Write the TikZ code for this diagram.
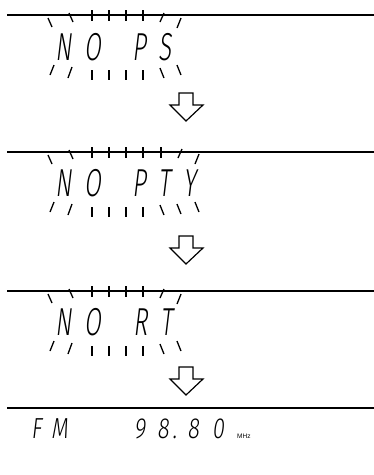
\documentclass[tikz,border=0pt]{standalone}
\usepackage{fontspec}
\usetikzlibrary{positioning}
\newfontfamily\lcdfont{Fira Sans Light}[FakeStretch=0.62,FakeSlant=0.12,LetterSpace=34]
\newfontfamily\lcdsmallfont{Fira Sans Light}[FakeStretch=0.75,FakeSlant=0.12]
\newfontfamily\unitfont{Liberation Sans}

\begin{document}
\begin{tikzpicture}[x=1pt, y=-1pt,
    rule/.style={line width=1.6pt},
    blink/.style={line width=1.3pt},
    lcd/.style={anchor=base west, inner sep=0pt,
                font=\lcdfont\fontsize{39}{39}\selectfont},
    lcdsmall/.style={anchor=base west, inner sep=0pt,
                font=\lcdsmallfont\fontsize{29}{29}\selectfont},
    unit/.style={anchor=base west, inner sep=0pt,
                font=\unitfont\fontsize{6.5}{6.5}\selectfont},
    hollow/.style={draw, line width=1.2pt, fill=white, line join=miter}
  ]
    \useasboundingbox (0,0) rectangle (374,475);

    % display 1
    \begin{scope}[shift={(0,15)}]
      \draw[rule] (7,0) -- (374,0);
      \foreach \x in {92,109,126,143} {
        \draw[blink] (\x,-5) -- (\x,6);
        \draw[blink] (\x,55) -- (\x,65);
      }
      \draw[blink] (48,3) -- (52,12) (69,-2) -- (73,7);
      \draw[blink] (164,-2) -- (160,7) (181,3) -- (177,13);
      \draw[blink] (54,50) -- (50,60) (72,52) -- (68,63);
      \draw[blink] (160,53) -- (164,63) (177,50) -- (181,60);
      \node[lcd] (no1) at (55,45) {NO};
      \node[lcd] (ps) at (132,45) {PS};
    \end{scope}

    % display 2
    \begin{scope}[shift={(0,152)}]
      \draw[rule] (7,0) -- (374,0);
      \foreach \x in {92,109,126,143,161} \draw[blink] (\x,-5) -- (\x,6);
      \foreach \x in {92,109,126,143} \draw[blink] (\x,55) -- (\x,65);
      \draw[blink] (48,3) -- (52,12) (69,-2) -- (73,7);
      \draw[blink] (182,-3) -- (178,6) (199,2) -- (195,12);
      \draw[blink] (54,50) -- (50,60) (72,52) -- (68,63);
      \draw[blink] (160,53) -- (164,63) (177,52) -- (181,62) (195,50) -- (199,60);
      \node[lcd] (no2) at (55,44) {NO};
      \node[lcd] (pty) at (132,44) {PTY};
    \end{scope}

    % display 3
    \begin{scope}[shift={(0,291)}]
      \draw[rule] (7,0) -- (374,0);
      \foreach \x in {92,109,126,143} {
        \draw[blink] (\x,-5) -- (\x,6);
        \draw[blink] (\x,55) -- (\x,65);
      }
      \draw[blink] (48,3) -- (52,12) (69,-2) -- (73,7);
      \draw[blink] (164,-2) -- (160,7) (181,3) -- (177,13);
      \draw[blink] (54,50) -- (50,60) (72,52) -- (68,63);
      \draw[blink] (160,53) -- (164,63) (177,50) -- (181,60);
      \node[lcd] (no3) at (55,44) {NO};
      \node[lcd] (rt) at (133,44) {RT};
    \end{scope}

    % display 4
    \begin{scope}[shift={(0,408)}]
      \draw[rule] (7,0) -- (374,0);
      \node[lcdsmall] (band) at (31,30) {F\kern9.5pt M};
      \node[lcdsmall] (freq) at (134,30)
        {9\kern11.7pt 8\kern3.5pt.\kern10.5pt 8\kern13pt 0};
      \node[unit] (mhz) at (237,30) {MHz};
    \end{scope}

    % arrows
    \foreach \t in {93,236,367}
      \draw[hollow] (179,\t) -- (193,\t) -- (193,\t+12) -- (203,\t+12)
        -- (186,\t+28) -- (170,\t+12) -- (179,\t+12) -- cycle;
  \end{tikzpicture}
\end{document}
